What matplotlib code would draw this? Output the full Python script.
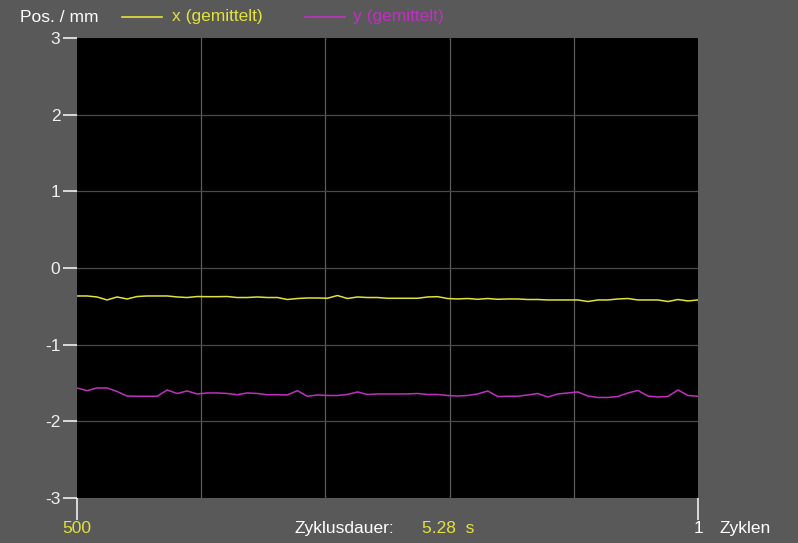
import numpy as np
import matplotlib.pyplot as plt

plt.rcParams['font.family'] = ['Liberation Sans', 'DejaVu Sans']

# averaged positions in mm, sampled from cycle 500 (left) down to cycle 1 (right)
x_mean = [-0.365, -0.365, -0.378, -0.417, -0.378, -0.404, -0.372, -0.365, -0.365, -0.365,
          -0.378, -0.385, -0.372, -0.374, -0.374, -0.372, -0.385, -0.385, -0.378, -0.385,
          -0.385, -0.411, -0.398, -0.391, -0.391, -0.395, -0.359, -0.398, -0.378, -0.385,
          -0.385, -0.395, -0.395, -0.395, -0.395, -0.378, -0.374, -0.398, -0.404, -0.398,
          -0.408, -0.398, -0.408, -0.404, -0.404, -0.411, -0.411, -0.417, -0.417, -0.417,
          -0.417, -0.437, -0.417, -0.417, -0.404, -0.398, -0.417, -0.417, -0.417, -0.437,
          -0.411, -0.430, -0.417]
y_mean = [-1.565, -1.600, -1.565, -1.565, -1.611, -1.670, -1.673, -1.673, -1.673, -1.591,
          -1.637, -1.604, -1.643, -1.630, -1.630, -1.637, -1.653, -1.630, -1.637, -1.653,
          -1.653, -1.656, -1.600, -1.673, -1.656, -1.663, -1.663, -1.650, -1.617, -1.650,
          -1.643, -1.643, -1.643, -1.643, -1.637, -1.650, -1.650, -1.663, -1.670, -1.663,
          -1.643, -1.604, -1.676, -1.673, -1.673, -1.656, -1.637, -1.683, -1.643, -1.630,
          -1.617, -1.670, -1.689, -1.689, -1.676, -1.630, -1.598, -1.670, -1.683, -1.676,
          -1.591, -1.663, -1.673]
n_cycles = 500
y_ticks = [3, 2, 1, 0, -1, -2, -3]
y_labels = ["3", "2", "1", "0", "-1", "-2", "-3"]

bg = "#595959"
yellow = "#e2e23a"
magenta = "#c030c0"
fs = 12.5

cycles = np.linspace(n_cycles, 1, len(x_mean))

fig = plt.figure(figsize=(7.98, 5.43), dpi=100, facecolor=bg)
ax = fig.add_axes([0.0965, 0.0829, 0.7782, 0.8471])
ax.set_facecolor("black")

# grid
for g in np.linspace(n_cycles, 1, 6)[1:-1]:
    ax.axvline(g, color="#5c5c5c", linewidth=0.9)
for g in y_ticks[1:-1]:
    ax.axhline(g, color="#4a4a4a", linewidth=0.9)

ax.plot(cycles, x_mean, color=yellow, linewidth=1.1)
ax.plot(cycles, y_mean, color=magenta, linewidth=1.1)

ax.set_xlim(n_cycles, 1)
ax.set_ylim(-3, 3)

for s in ax.spines.values():
    s.set_visible(False)

ax.set_yticks(y_ticks)
ax.set_yticklabels(y_labels)
ax.tick_params(axis="y", colors="#f0f0f0", length=10, width=1.2, labelsize=fs, pad=2)
ax.set_xticks([n_cycles, 1])
ax.set_xticklabels(["", ""])
ax.tick_params(axis="x", colors="#f0f0f0", length=16, width=1.2)

# bottom labels
ax.text(n_cycles, -3.4, "500", color=yellow, fontsize=fs, ha="center", va="center")
ax.text(1, -3.4, "1", color="white", fontsize=fs, ha="center", va="center")
ax.text(-37, -3.4, "Zyklen", color="white", fontsize=fs, ha="center", va="center", clip_on=False)
ax.text(285, -3.4, "Zyklusdauer:", color="white", fontsize=fs, ha="center", va="center")
ax.text(202, -3.4, "5.28  s", color=yellow, fontsize=fs, ha="center", va="center")

# header legend
fig.text(20 / 798, 1 - 17 / 543, "Pos. / mm", color="white", fontsize=fs, va="center")
fig.add_artist(plt.Line2D([122 / 798, 162 / 798], [1 - 17 / 543] * 2, color=yellow, linewidth=1.2))
fig.text(172 / 798, 1 - 17 / 543, "x (gemittelt)", color=yellow, fontsize=fs, va="center")
fig.add_artist(plt.Line2D([305 / 798, 345 / 798], [1 - 17 / 543] * 2, color=magenta, linewidth=1.2))
fig.text(353 / 798, 1 - 17 / 543, "y (gemittelt)", color=magenta, fontsize=fs, va="center")

fig.savefig("out.png", dpi=100, facecolor=bg)
